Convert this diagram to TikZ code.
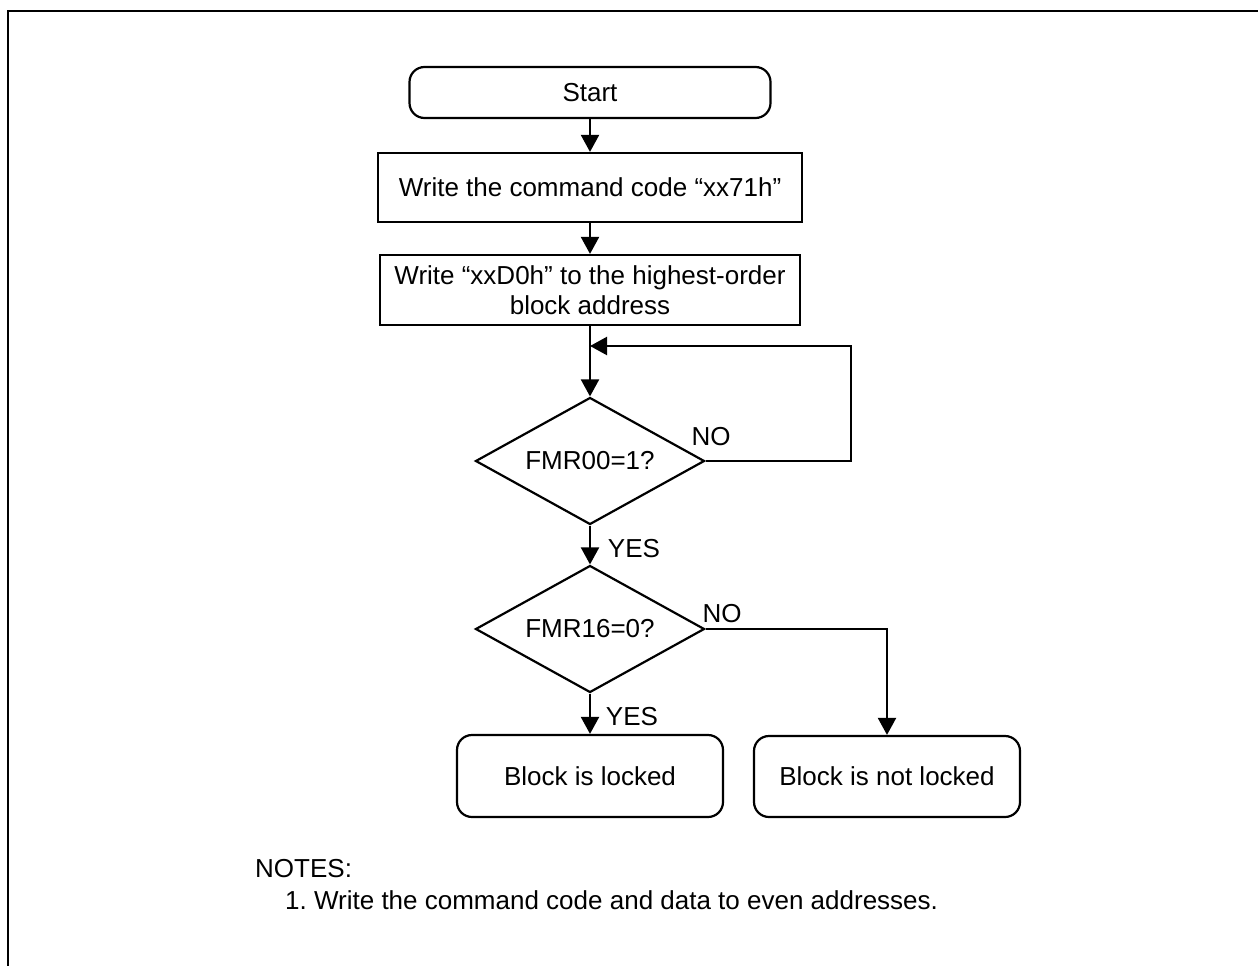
\documentclass[tikz,border=0pt]{standalone}
\usepackage{fontspec}
\setmainfont{Liberation Sans}
\usetikzlibrary{shapes.geometric,arrows.meta}
\frenchspacing
\begin{document}
\begin{tikzpicture}[x=1pt,y=-1pt,
  every node/.style={font=\fontsize{26}{30}\selectfont, inner sep=0pt},
  line/.style={line width=2.2pt, draw=black},
  arr/.style={line, -{Triangle[length=17pt,width=18pt]}},
  terminal/.style={line, rectangle, rounded corners=15pt, align=center},
  procbox/.style={line, rectangle, align=center},
  decision/.style={line, diamond, aspect=1.8, minimum width=229pt, minimum height=127pt},
  lbl/.style={anchor=center}
]
\useasboundingbox (0,0) rectangle (1258,966);
\draw[line width=2.5pt] (8,966) -- (8,11) -- (1258,11);

\node[terminal, minimum width=361pt, minimum height=51pt] (start) at (590,92.5) {Start};
\node[procbox, minimum width=424pt, minimum height=69pt] (w1) at (590,187.5) {Write the command code “xx71h”};
\node[procbox, minimum width=420pt, minimum height=70pt] (w2) at (590,290) {Write “xxD0h” to the highest-order\\block address};
\node[decision] (d1) at (590,461) {FMR00=1?};
\node[decision] (d2) at (590,629) {FMR16=0?};
\node[terminal, minimum width=266pt, minimum height=82pt] (locked) at (590,776) {Block is locked};
\node[terminal, minimum width=266pt, minimum height=81pt] (notlocked) at (887,776.5) {Block is not locked};

\coordinate (fbr) at (851,346);
\coordinate (fbl) at (590,346);

\draw[arr] (start.south) -- (w1.north);
\draw[arr] (w1.south) -- (w2.north);
\draw[arr] (w2.south) -- (d1.north);
\draw[arr] (d1.east) -| (fbr) -- (fbl);
\draw[arr] (d1.south) -- (d2.north);
\draw[arr] (d2.south) -- (locked.north);
\draw[arr] (d2.east) -| (notlocked.north);

\node[lbl] (no1) at (711,437) {NO};
\node[lbl] (yes1) at (634,549) {YES};
\node[lbl] (no2) at (722,614) {NO};
\node[lbl] (yes2) at (632,717) {YES};

\node[anchor=base west] (notes) at (255,877) {NOTES:};
\node[anchor=base west] (note1) at (285,909) {1. Write the command code and data to even addresses.};
\end{tikzpicture}
\end{document}
